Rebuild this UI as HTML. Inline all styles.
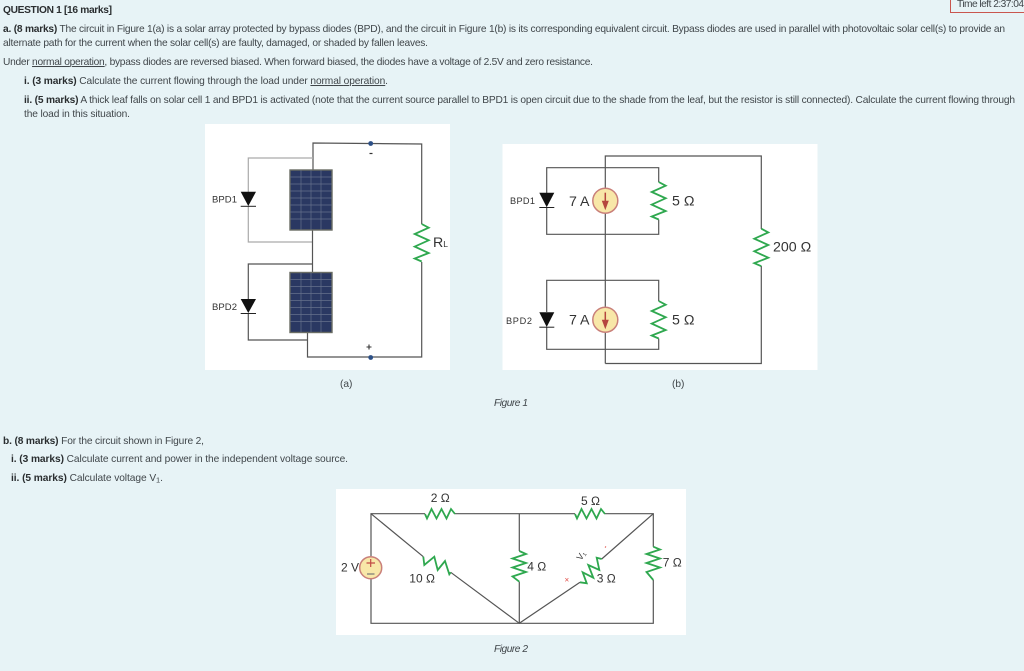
<!DOCTYPE html>
<html><head><meta charset="utf-8"><style>
html,body{margin:0;padding:0;background:#e7f3f6;width:1024px;height:671px;overflow:hidden}
svg{display:block;filter:blur(.35px)}
.t{font-family:"Liberation Sans",sans-serif;font-size:10.2px;fill:#40464a}
.b{font-weight:bold;fill:#2a2e30}
.l{font-family:"Liberation Sans",sans-serif;font-size:12px;fill:#333}
.c{font-family:"Liberation Sans",sans-serif;font-size:14.2px;fill:#333}
.w{fill:none;stroke:#555;stroke-width:1.2}
.lw{fill:none;stroke:#aaa;stroke-width:1.2}
.r{fill:none;stroke:#2fa84f;stroke-width:1.8}
</style></head><body>
<svg width="1024" height="671" viewBox="0 0 1024 671" xmlns="http://www.w3.org/2000/svg">
<defs>
<g id="panel">
<rect x="0" y="0" width="42" height="60" fill="#2c3a5e" stroke="#6a6d64" stroke-width="1.4"/>
<rect x="1" y="1" width="40" height="58" fill="#2a3862"/>
<path d="M11 0V60M21 0V60M31 0V60M0 7H42M0 14H42M0 21H42M0 28H42M0 35H42M0 42H42M0 49H42" stroke="#65708c" stroke-width=".7" fill="none"/>
</g>
<path id="rv" d="M0 0L7 3.7L-7 10L7 16.3L-7 22.6L7 29L-7 34.5L0 37.5" class="r"/>
<g id="src">
<circle r="12.5" fill="#f8e7a8" stroke="#c9807a" stroke-width="1.5"/>
<path d="M0 -8V2" stroke="#b5453f" stroke-width="1.5"/>
<path d="M-3.5 0H3.5L0 9.5Z" fill="#b5453f"/>
</g>
</defs>

<!-- Timer -->
<path d="M950.5 0V12.5H1024" fill="none" stroke="#c9564f" stroke-width="1"/>
<text x="957" y="7" class="t" textLength="67" lengthAdjust="spacing">Time left 2:37:04</text>

<!-- Question text -->
<text x="3" y="13" class="t b" textLength="109" lengthAdjust="spacing">QUESTION 1 [16 marks]</text>
<text x="3" y="32" class="t" textLength="1002" lengthAdjust="spacing"><tspan class="b">a. (8 marks)</tspan> The circuit in Figure 1(a) is a solar array protected by bypass diodes (BPD), and the circuit in Figure 1(b) is its corresponding equivalent circuit. Bypass diodes are used in parallel with photovoltaic solar cell(s) to provide an</text>
<text x="3" y="46" class="t" textLength="425" lengthAdjust="spacing">alternate path for the current when the solar cell(s) are faulty, damaged, or shaded by fallen leaves.</text>
<text x="3" y="65" class="t" textLength="590" lengthAdjust="spacing">Under <tspan text-decoration="underline">normal operation</tspan>, bypass diodes are reversed biased. When forward biased, the diodes have a voltage of 2.5V and zero resistance.</text>
<text x="24" y="84" class="t" textLength="364" lengthAdjust="spacing"><tspan class="b">i.  (3 marks)</tspan> Calculate the current flowing through the load under <tspan text-decoration="underline">normal operation</tspan>.</text>
<text x="24" y="103" class="t" textLength="991" lengthAdjust="spacing"><tspan class="b">ii. (5 marks)</tspan> A thick leaf falls on solar cell 1 and BPD1 is activated (note that the current source parallel to BPD1 is open circuit due to the shade from the leaf, but the resistor is still connected). Calculate the current flowing through</text>
<text x="24" y="117" class="t" textLength="106" lengthAdjust="spacing">the load in this situation.</text>

<!-- Figure 1a -->
<rect x="205" y="124" width="245" height="246" fill="#fff"/>
<path class="w" d="M313 170V143L421.7 144V224M421.7 262V357H307.5V332"/>
<path class="lw" d="M313 158H248.3V192M248.3 206V242H313"/>
<path class="w" d="M312.5 230V273"/>
<path class="w" d="M312 264H248.3V299M248.3 313V340H307.5"/>
<use href="#panel" x="290" y="170"/>
<use href="#panel" x="290" y="272.5"/>
<path d="M240.7 191.7H256L248.3 206Z" fill="#111"/><path d="M240.7 206.3H256" stroke="#222"/>
<path d="M240.7 299H256L248.3 313Z" fill="#111"/><path d="M240.7 313.5H256" stroke="#222"/>
<circle cx="370.7" cy="143.5" r="2.4" fill="#2c4f86"/>
<circle cx="370.7" cy="357.5" r="2.4" fill="#2c4f86"/>
<path d="M369.5 153.5H372.5" stroke="#333" stroke-width="1.2"/>
<path d="M366.5 347H371.5M369 344.5V349.5" stroke="#333" stroke-width="1.1"/>
<use href="#rv" x="421.7" y="224"/>
<text x="212" y="202.7" class="l" font-size="9.5" style="font-size:9.5px" textLength="25" lengthAdjust="spacing">BPD1</text>
<text x="212" y="310" class="l" style="font-size:9.5px" textLength="25" lengthAdjust="spacing">BPD2</text>
<text x="433" y="247" class="c">R<tspan font-size="8.5">L</tspan></text>

<!-- Figure 1b -->
<rect x="502.5" y="144" width="315" height="226" fill="#fff"/>
<path class="w" d="M605.3 363.5V156H761.3V229M761.3 266V363.5H605.3"/>
<path class="w" d="M546.7 193V167.7H658.7V182M658.7 219.5V234.3H546.7V207"/>
<path class="w" d="M546.7 312V280.3H658.7V301M658.7 338.5V349.3H546.7V327"/>
<path d="M539.3 192.7H554.3L546.7 207.3Z" fill="#111"/><path d="M539.3 207.5H554.3" stroke="#222"/>
<path d="M539.3 312.3H554.3L546.7 327Z" fill="#111"/><path d="M539.3 327.2H554.3" stroke="#222"/>
<use href="#src" x="605.3" y="200.7"/>
<use href="#src" x="605.3" y="319.7"/>
<use href="#rv" x="658.7" y="182"/>
<use href="#rv" x="658.7" y="301"/>
<use href="#rv" x="761.3" y="228.7"/>
<text x="510" y="204" class="l" style="font-size:9.2px" textLength="25" lengthAdjust="spacing">BPD1</text>
<text x="506" y="324" class="l" style="font-size:9.2px" textLength="26" lengthAdjust="spacing">BPD2</text>
<text x="569" y="206" class="c">7 A</text>
<text x="569" y="324.3" class="c">7 A</text>
<text x="672" y="205.7" class="c">5 Ω</text>
<text x="672" y="324.3" class="c">5 Ω</text>
<text x="773" y="251.7" class="c">200 Ω</text>

<!-- Labels -->
<text x="340" y="387" class="t">(a)</text>
<text x="672" y="387" class="t">(b)</text>
<text x="494" y="406" class="t" font-style="italic" textLength="34" lengthAdjust="spacing">Figure 1</text>

<!-- Part b -->
<text x="3" y="444" class="t" textLength="201" lengthAdjust="spacing"><tspan class="b">b.  (8 marks)</tspan> For the circuit shown in Figure 2,</text>
<text x="11" y="462" class="t" textLength="337" lengthAdjust="spacing"><tspan class="b">i.   (3 marks)</tspan> Calculate current and power in the independent voltage source.</text>
<text x="11" y="481" class="t" textLength="152" lengthAdjust="spacing"><tspan class="b">ii.  (5 marks)</tspan> Calculate voltage V<tspan font-size="7.5" dy="1.5">1</tspan><tspan dy="-1.5">.</tspan></text>

<!-- Figure 2 -->
<rect x="336" y="489" width="350" height="146" fill="#fff"/>
<path class="w" d="M371 556V513.7H425M455 513.7H575M605 513.7H653.3V546.7M653.3 580V623.3H371V579"/>
<path class="w" d="M519.3 513.7V551M519.3 581.7V623.3"/>
<path class="w" stroke-width="1" d="M371 513.7L423.3 556.7M450.7 572.3L519.3 623.3L580 582.3M601.7 559L653.3 513.7"/>
<path class="r" d="M425 514L427 518.5L431.5 509L436.5 518.5L441.5 509L446.5 518.5L451 509L455 514"/>
<path class="r" d="M575 514L577 518.5L581.5 509L586.5 518.5L591.5 509L596.5 518.5L601 509L605 514"/>
<path class="r" d="M519.3 551L526 554L512.5 558.5L526 563L512.5 567.5L526 572L512.5 576.5L519.3 581.7"/>
<path class="r" d="M653.3 546.7L660 549.5L646.5 554L660 558.5L646.5 563L660 567.5L646.5 572L653.3 580"/>
<path class="r" d="M423.3 556.7L424.3 565L434.3 556.7L437.7 570L445 561L449.3 574.3L450.7 572.3"/>
<path class="r" d="M580 582.3L586.7 583.3L582.7 572.3L593.3 577.7L588.3 565L599.3 570L596.7 557.7L601.7 559"/>
<circle cx="370.7" cy="567.7" r="11" fill="#f8e7a8" stroke="#c9807a" stroke-width="1.5"/>
<path d="M366.5 563H375M370.7 559V567" stroke="#c24a44" stroke-width="1.2"/>
<path d="M367 574H374.5" stroke="#777" stroke-width="1.2"/>
<text x="341" y="571.7" class="l">2 V</text>
<text x="430.7" y="502" class="l">2 Ω</text>
<text x="581" y="505" class="l">5 Ω</text>
<text x="409.3" y="582.7" class="l">10 Ω</text>
<text x="527.3" y="570.7" class="l">4 Ω</text>
<text x="596.7" y="582.7" class="l">3 Ω</text>
<text x="662.7" y="566.7" class="l">7 Ω</text>
<text x="0" y="0" class="l" style="font-size:9px" transform="translate(581,561) rotate(-55)">V₁</text>
<text x="564.5" y="582.5" font-family="Liberation Sans,sans-serif" font-size="8" fill="#e04b45">×</text>
<path d="M605 547.5L606 546.5" stroke="#e04b45" stroke-width="1"/>
<text x="494" y="652" class="t" font-style="italic" textLength="34" lengthAdjust="spacing">Figure 2</text>
</svg>
</body></html>
